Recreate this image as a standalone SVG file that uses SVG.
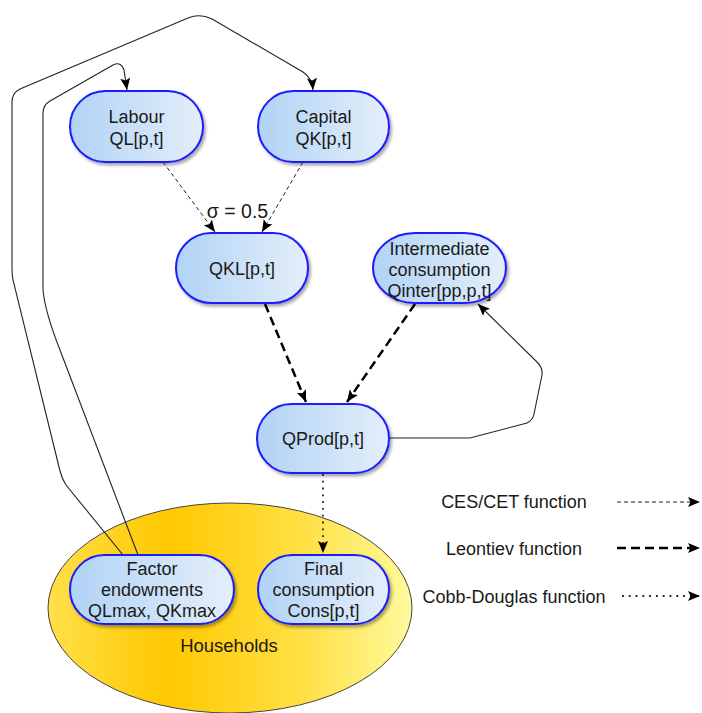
<svg xmlns="http://www.w3.org/2000/svg" width="702" height="713" viewBox="0 0 702 713">
<defs>
<linearGradient id="nodeGrad" x1="0" y1="0" x2="1" y2="0">
<stop offset="0" stop-color="#b1d3f6"/>
<stop offset="1" stop-color="#e4eefa"/>
</linearGradient>
<linearGradient id="hhGrad" x1="0" y1="0" x2="1" y2="0">
<stop offset="0" stop-color="#ffe04a"/>
<stop offset="0.33" stop-color="#ffc800"/>
<stop offset="0.7" stop-color="#ffe044"/>
<stop offset="1" stop-color="#fffa9e"/>
</linearGradient>
<filter id="shadow" x="-10%" y="-10%" width="130%" height="140%">
<feDropShadow dx="2" dy="2.5" stdDeviation="1.5" flood-color="#000" flood-opacity="0.35"/>
</filter>
<marker id="arr" markerUnits="userSpaceOnUse" markerWidth="13" markerHeight="11" refX="12" refY="5" orient="auto">
<path d="M0,0 L12,5 L0,10 L2.5,5 Z" fill="#000"/>
</marker>
</defs>
<style>
.node rect{fill:url(#nodeGrad);stroke:#1a1aff;stroke-width:2;filter:url(#shadow)}
.node text, .lbl{font-family:"Liberation Sans",Arial,sans-serif;font-size:18px;fill:#1a1a1a;text-anchor:middle}
.ces{fill:none;stroke:#222;stroke-width:1;stroke-dasharray:4 3}
.leo{fill:none;stroke:#000;stroke-width:2.5;stroke-dasharray:9 5}
.cd{fill:none;stroke:#222;stroke-width:1.8;stroke-dasharray:1.8 5}
.sol{fill:none;stroke:#222;stroke-width:1.1}
</style>
<g id="households">
<ellipse cx="230" cy="608" rx="182" ry="105" fill="url(#hhGrad)" stroke="#444" stroke-width="1"/>
<text class="lbl" x="229" y="652" style="font-size:18.5px">Households</text>
</g>
<g id="connectors">
<path class="sol" d="M123,555 L66,485 Q62,479 60,471 L13,280 Q12,275 12,265 L12,102 Q12,93 20,89 L188,18 Q200,13 212,19 L303,72 Q312,78 313,90" marker-end="url(#arr)"/>
<path class="sol" d="M138,555 L60,350 Q45,312 43,290 L43,113 Q43,105 50,101 L113,65 Q121,61 124,70 L127,90" marker-end="url(#arr)"/>
<path class="ces" d="M163,162 L215,232" marker-end="url(#arr)"/>
<path class="ces" d="M303,162 L262,232" marker-end="url(#arr)"/>
<path class="leo" d="M265,304 L306,402" marker-end="url(#arr)"/>
<path class="leo" d="M415,304 L347,402" marker-end="url(#arr)"/>
<path class="sol" d="M390,438 L470,438 L527,423 Q533,420 534,414 L542,375 Q543,368 537,362 L478,304" marker-end="url(#arr)"/>
<path class="cd" d="M323,474 L323,553" marker-end="url(#arr)"/>
<text class="lbl" x="237.5" y="218" style="font-size:19.5px">σ = 0.5</text>
</g>
<g id="labour" class="node">
<rect x="70" y="91" width="133" height="71" rx="35.5" ry="35.5"/>
<text x="136.5" y="123">Labour</text>
<text x="136.5" y="145">QL[p,t]</text>
</g>
<g id="capital" class="node">
<rect x="258" y="91" width="131" height="71" rx="35.5" ry="35.5"/>
<text x="323.5" y="123">Capital</text>
<text x="323.5" y="145">QK[p,t]</text>
</g>
<g id="qkl" class="node">
<rect x="176" y="233" width="132" height="70" rx="35" ry="35"/>
<text x="242" y="275">QKL[p,t]</text>
</g>
<g id="intermediate" class="node">
<rect x="373" y="233" width="133" height="70" rx="42" ry="35"/>
<text x="439.5" y="255">Intermediate</text>
<text x="439.5" y="276">consumption</text>
<text x="439.5" y="297">Qinter[pp,p,t]</text>
</g>
<g id="qprod" class="node">
<rect x="257" y="404" width="132" height="69" rx="34.5" ry="34.5"/>
<text x="323" y="445">QProd[p,t]</text>
</g>
<g id="factor" class="node">
<rect x="70" y="555" width="164" height="69" rx="34.5" ry="34.5"/>
<text x="152" y="575">Factor</text>
<text x="152" y="596">endowments</text>
<text x="152" y="617">QLmax, QKmax</text>
</g>
<g id="final" class="node">
<rect x="258" y="555" width="131" height="69" rx="34.5" ry="34.5"/>
<text x="323.5" y="575">Final</text>
<text x="323.5" y="596">consumption</text>
<text x="323.5" y="617">Cons[p,t]</text>
</g>
<g id="legend">
<text class="lbl" x="514" y="508">CES/CET function</text>
<text class="lbl" x="514" y="555">Leontiev function</text>
<text class="lbl" x="514" y="603">Cobb-Douglas function</text>
<path class="ces" d="M617,502 L700,502" marker-end="url(#arr)"/>
<path class="leo" d="M617,548 L700,548" marker-end="url(#arr)"/>
<path class="cd" d="M622,596 L700,596" marker-end="url(#arr)"/>
</g>
</svg>
